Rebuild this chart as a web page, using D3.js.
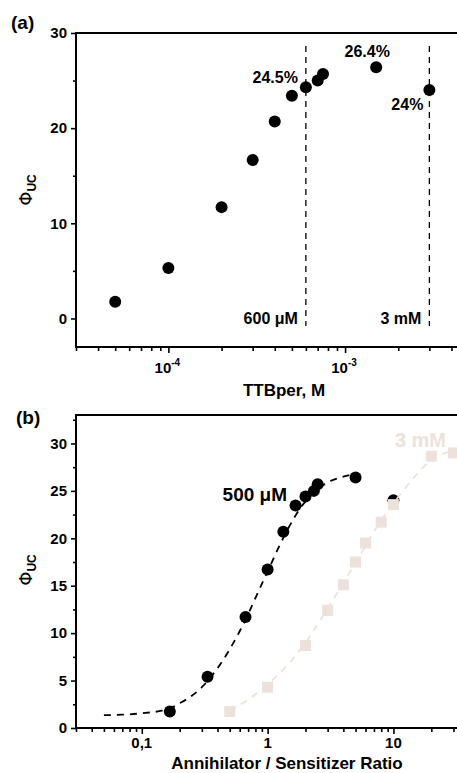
<!DOCTYPE html>
<html><head><meta charset="utf-8">
<script src="https://cdn.jsdelivr.net/npm/d3@7"></script>
<style>
html,body{margin:0;padding:0;background:#fff;}
svg{display:block;font-family:"Liberation Sans",Arial,sans-serif;}
</style></head><body>
<svg id="chart" width="457" height="773"></svg>
<script>
// ---- Panel (a) data ----
const aConc = [5e-5, 1e-4, 2e-4, 3e-4, 4e-4, 5e-4, 6e-4, 7e-4, 7.5e-4, 1.5e-3, 3e-3];
const aPhi  = [1.75, 5.3, 11.7, 16.65, 20.7, 23.4, 24.3, 25.0, 25.7, 26.4, 24.0];
const aMarkers = [6e-4, 3e-3];
const aMarkerLabels = ["600 \u03BCM", "3 mM"];
const aAnnotConc = [6e-4, 1.5e-3, 3e-3];
const aAnnotText = ["24.5%", "26.4%", "24%"];
const aYTicks = [0, 10, 20, 30];
const aXTicks = [1e-4, 1e-3];
const aXTickExp = ["-4", "-3"];

// ---- Panel (b) data ----
const bRatio = [0.167, 0.333, 0.667, 1, 1.333, 1.667, 2, 2.333, 2.5, 5, 10];
const bPhi   = [1.75, 5.4, 11.7, 16.7, 20.7, 23.45, 24.4, 25.0, 25.7, 26.4, 24.0];
const bFitX  = [0.05, 0.07, 0.1, 0.14, 0.17, 0.2, 0.25, 0.3, 0.35, 0.4, 0.5, 0.6, 0.7, 0.8, 0.9, 1.0, 1.2, 1.4, 1.6, 1.8, 2.0, 2.5, 3, 4, 5];
const bFitY  = [1.35, 1.4, 1.55, 1.8, 2.1, 2.6, 3.4, 4.3, 5.3, 6.3, 8.3, 10.2, 12.0, 13.7, 15.2, 16.5, 18.8, 20.6, 22.0, 23.1, 23.9, 25.2, 25.9, 26.5, 26.8];
const sqRatio = [0.5, 1, 2, 3, 4, 5, 6, 8, 10, 20, 30];
const sqPhi   = [1.75, 4.3, 8.7, 12.4, 15.1, 17.5, 19.5, 21.7, 23.55, 28.65, 29.0];
const sqFitX  = [0.5, 0.7, 1, 1.5, 2, 3, 4, 5, 6, 8, 10, 15, 20, 30];
const sqFitY  = [1.8, 3.0, 4.6, 6.9, 9.0, 12.6, 15.3, 17.4, 19.2, 21.9, 23.7, 26.6, 28.3, 29.2];
const bYTicks = [0, 5, 10, 15, 20, 25, 30];
const bXTicks = [0.1, 1, 10];
const bXTickLabels = ["0,1", "1", "10"];

const light = "#ece2db";
const svg = d3.select("#chart");

function logMinor(lo, hi) {
  const out = [];
  for (let e = Math.floor(Math.log10(lo)); e <= Math.ceil(Math.log10(hi)); e++) {
    for (let m = 1; m < 10; m++) {
      const v = m * Math.pow(10, e);
      if (v >= lo * 0.999 && v <= hi * 1.001) out.push(v);
    }
  }
  return out;
}

function drawAxes(g, x, y, yMajor, yMinor, xMinor) {
  const [x0, x1] = x.range();
  const [yb, yt] = y.range();
  g.append("line").attr("x1", x0).attr("x2", x0).attr("y1", yt).attr("y2", yb).attr("stroke", "#000").attr("stroke-width", 2);
  g.append("line").attr("x1", x0 - 1).attr("x2", x1 + 5).attr("y1", yb).attr("y2", yb).attr("stroke", "#000").attr("stroke-width", 2);
  g.append("line").attr("x1", x0 - 1).attr("x2", x1 + 5).attr("y1", yt).attr("y2", yt).attr("stroke", "#000").attr("stroke-width", 2);
  const yAx = g.append("g").attr("transform", `translate(${x0},0)`)
    .call(d3.axisLeft(y).tickValues(yMajor).tickSize(5).tickFormat(d3.format("d")));
  yAx.select(".domain").remove();
  yAx.selectAll("line").attr("stroke-width", 1.6);
  yAx.selectAll("text").attr("font-size", 15).attr("font-weight", "bold").attr("font-family", "Liberation Sans, Arial").attr("dx", -1);
  const yMin = g.append("g").attr("transform", `translate(${x0},0)`)
    .call(d3.axisLeft(y).tickValues(yMinor).tickSize(3).tickFormat(""));
  yMin.select(".domain").remove();
  yMin.selectAll("line").attr("stroke-width", 1.6);
  const xMin = g.append("g").attr("transform", `translate(0,${yb})`)
    .call(d3.axisBottom(x).tickValues(xMinor).tickSize(4).tickFormat(""));
  xMin.select(".domain").remove();
  xMin.selectAll("line").attr("stroke-width", 1.6);
}

// ================= Panel (a) =================
const xa = d3.scaleLog().domain([3e-5, 4.3e-3]).range([76, 457]);
const ya = d3.scaleLinear().domain([-3, 30]).range([347, 33]);
const ga = svg.append("g");
drawAxes(ga, xa, ya, aYTicks, [5, 15, 25], logMinor(3e-5, 4.3e-3).filter(v => !aXTicks.some(t => Math.abs(t - v) / t < 1e-6)));
const xaMaj = ga.append("g").attr("transform", `translate(0,347)`)
  .call(d3.axisBottom(xa).tickValues(aXTicks).tickSize(6).tickFormat(""));
xaMaj.select(".domain").remove();
xaMaj.selectAll("line").attr("stroke-width", 1.6);
aXTicks.forEach((t, i) => {
  const tx = ga.append("text").attr("x", xa(t) - 1).attr("y", 373).attr("text-anchor", "middle")
    .attr("font-size", 15).attr("font-weight", "bold");
  tx.append("tspan").text("10");
  tx.append("tspan").attr("dy", -7).attr("font-size", 10).text(aXTickExp[i]);
});
aMarkers.forEach((m, i) => {
  ga.append("line").attr("x1", xa(m)).attr("x2", xa(m)).attr("y1", 46).attr("y2", 326)
    .attr("stroke", "#000").attr("stroke-width", 1.3).attr("stroke-dasharray", "6,5");
  ga.append("text").attr("x", xa(m) - 8).attr("y", 324).attr("text-anchor", "end")
    .attr("font-size", 16).attr("font-weight", "bold").text(aMarkerLabels[i]);
});
ga.selectAll("circle.pa").data(aConc).enter().append("circle")
  .attr("cx", d => xa(d)).attr("cy", (d, i) => ya(aPhi[i])).attr("r", 6).attr("fill", "#000");
const annot = [
  {dx: -8, dy: -4, anchor: "end"},
  {dx: -9, dy: -10, anchor: "middle"},
  {dx: -6, dy: 20, anchor: "end"}
];
aAnnotConc.forEach((c, i) => {
  const idx = aConc.indexOf(c);
  ga.append("text").attr("x", xa(c) + annot[i].dx).attr("y", ya(aPhi[idx]) + annot[i].dy)
    .attr("text-anchor", annot[i].anchor).attr("font-size", 16).attr("font-weight", "bold").text(aAnnotText[i]);
});
ga.append("text").attr("x", 284).attr("y", 396).attr("text-anchor", "middle")
  .attr("font-size", 17).attr("font-weight", "bold").text("TTBper, M");
ga.append("text").attr("x", 11).attr("y", 29).attr("font-size", 19).attr("font-weight", "bold").text("(a)");
function phiLabel(g, cx, cy) {
  const t = g.append("text").attr("transform", `translate(${cx},${cy}) rotate(-90)`).attr("text-anchor", "middle");
  t.append("tspan").attr("font-size", 18).attr("font-family", "DejaVu Sans, Liberation Sans").text("\u03A6");
  t.append("tspan").attr("font-size", 12).attr("dy", 4).attr("font-weight", "bold").text("UC");
}
phiLabel(ga, 32, 190);

// ================= Panel (b) =================
const xb = d3.scaleLog().domain([0.03, 32]).range([76, 457]);
const yb = d3.scaleLinear().domain([0, 33]).range([728, 415]);
const gb = svg.append("g");
drawAxes(gb, xb, yb, bYTicks, [2.5, 7.5, 12.5, 17.5, 22.5, 27.5, 32.5], logMinor(0.03, 32).filter(v => !bXTicks.some(t => Math.abs(t - v) / t < 1e-6)));
const xbMaj = gb.append("g").attr("transform", `translate(0,728)`)
  .call(d3.axisBottom(xb).tickValues(bXTicks).tickSize(6).tickFormat(""));
xbMaj.select(".domain").remove();
xbMaj.selectAll("line").attr("stroke-width", 1.6);
bXTicks.forEach((t, i) => {
  gb.append("text").attr("x", xb(t)).attr("y", 748).attr("text-anchor", "middle")
    .attr("font-size", 15).attr("font-weight", "bold").text(bXTickLabels[i]);
});
const line = d3.line().x(d => xb(d[0])).y(d => yb(d[1])).curve(d3.curveMonotoneX);
gb.append("path").datum(bFitX.map((v, i) => [v, bFitY[i]])).attr("d", line)
  .attr("fill", "none").attr("stroke", "#000").attr("stroke-width", 1.8).attr("stroke-dasharray", "7,6");
gb.selectAll("circle.pb").data(bRatio).enter().append("circle")
  .attr("cx", d => xb(d)).attr("cy", (d, i) => yb(bPhi[i])).attr("r", 6).attr("fill", "#000");
gb.append("path").datum(sqFitX.map((v, i) => [v, sqFitY[i]])).attr("d", line)
  .attr("fill", "none").attr("stroke", light).attr("stroke-width", 1.8).attr("stroke-dasharray", "7,6");
gb.selectAll("rect.sq").data(sqRatio).enter().append("rect")
  .attr("x", d => xb(d) - 5.5).attr("y", (d, i) => yb(sqPhi[i]) - 5.5).attr("width", 11).attr("height", 11).attr("fill", light);
gb.append("text").attr("x", 287).attr("y", 501).attr("text-anchor", "end")
  .attr("font-size", 19).attr("font-weight", "bold").text("500 \u03BCM");
gb.append("text").attr("x", 446).attr("y", 447).attr("text-anchor", "end")
  .attr("font-size", 20).attr("font-weight", "bold").attr("fill", light).text("3 mM");
gb.append("text").attr("x", 287).attr("y", 769).attr("text-anchor", "middle")
  .attr("font-size", 17).attr("font-weight", "bold").text("Annihilator / Sensitizer Ratio");
gb.append("text").attr("x", 16).attr("y", 424).attr("font-size", 19).attr("font-weight", "bold").text("(b)");
phiLabel(gb, 32, 570);
</script>
</body></html>
